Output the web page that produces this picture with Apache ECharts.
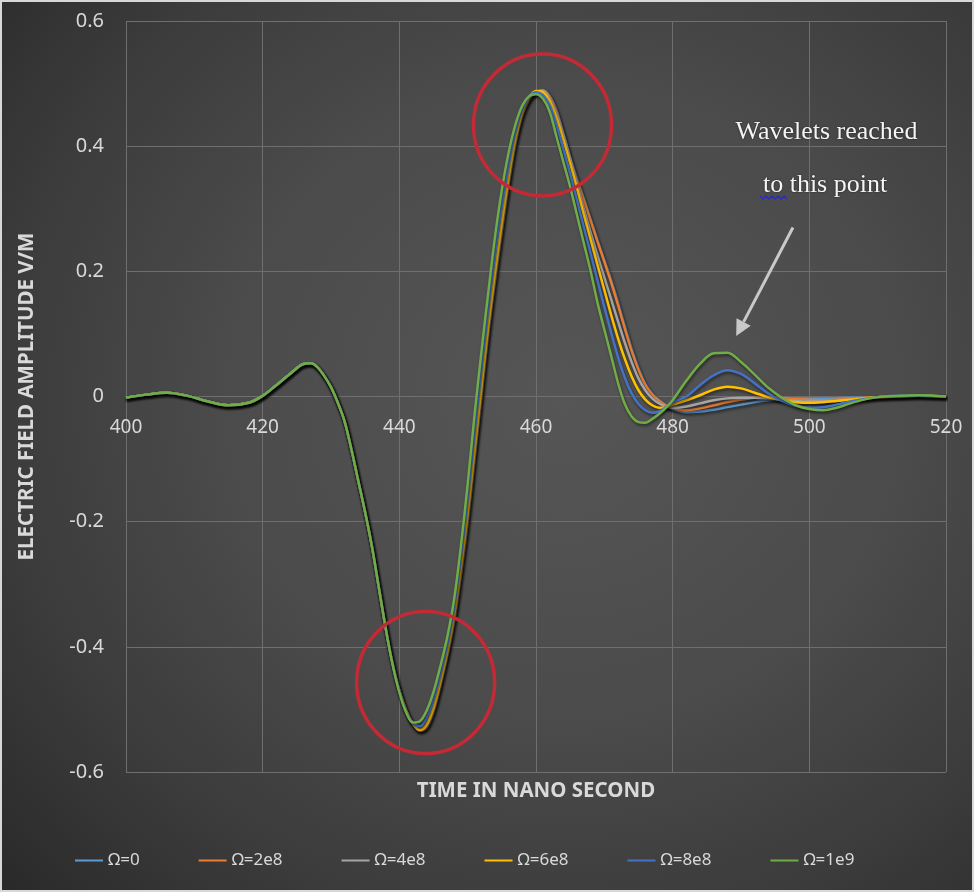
<!DOCTYPE html>
<html><head><meta charset="utf-8">
<script src="https://cdn.jsdelivr.net/npm/echarts@6/dist/echarts.min.js"></script>
<style>
html,body{margin:0;padding:0;background:#fff;}
#c{width:974px;height:892px;background:radial-gradient(ellipse 78% 80% at 58% 45%, #565656 0%, #4b4b4b 45%, #3b3b3b 75%, #2a2a2a 100%);}
</style></head><body><div id="c"></div>
<script>
// time samples (ns)
const times = [400,403,406,409,412,415,418,420,422,424,426,
427,428,429,430,431,432,433,434,435,436,437,438,
439,440,441,442,443,444,445,446,447,448,449,450,
451,452,453,454,455,456,457,458,459,460,461,462,
463,464,465,466,467,468,469,470,471,472,473,474,
475,476,477,478,479,480,
482,484,486,488,490,492,494,496,498,500,502,504,506,508,510,
513,516,520];

const seriesNames = ['Ω=0','Ω=2e8','Ω=4e8','Ω=6e8','Ω=8e8','Ω=1e9'];
const seriesColors = ['#5b9bd5','#ed7d31','#a5a5a5','#ffc000','#4472c4','#70ad47'];

const omega0 = [-0.002,0.003,0.006,0.001,-0.008,-0.014,-0.010,0.001,0.018,0.036,0.052,
0.053,0.047,0.033,0.015,-0.010,-0.040,-0.085,-0.135,-0.185,-0.240,-0.305,-0.370,
-0.426,-0.470,-0.502,-0.523,-0.534,-0.529,-0.504,-0.463,-0.416,-0.361,-0.286,-0.201,
-0.101,-0.001,0.099,0.184,0.264,0.339,0.404,0.449,0.474,0.486,0.489,0.480,
0.457,0.421,0.383,0.348,0.316,0.283,0.250,0.218,0.186,0.150,0.112,0.076,
0.045,0.020,0.004,-0.006,-0.014,-0.020,
-0.025,-0.024,-0.021,-0.017,-0.013,-0.009,-0.006,-0.004,-0.003,-0.003,-0.003,-0.003,-0.002,-0.002,-0.001,
0.000,0.001,0.000];

const omega2e8 = [-0.002,0.003,0.006,0.001,-0.008,-0.014,-0.010,0.001,0.018,0.036,0.052,
0.053,0.047,0.033,0.015,-0.010,-0.040,-0.085,-0.135,-0.185,-0.240,-0.305,-0.370,
-0.426,-0.470,-0.502,-0.523,-0.534,-0.528,-0.503,-0.462,-0.415,-0.360,-0.285,-0.200,
-0.100,0.000,0.100,0.185,0.265,0.340,0.405,0.450,0.474,0.486,0.489,0.479,
0.455,0.418,0.380,0.345,0.313,0.280,0.247,0.215,0.182,0.146,0.108,0.072,
0.042,0.018,0.003,-0.007,-0.014,-0.019,
-0.022,-0.019,-0.014,-0.009,-0.005,-0.002,-0.001,-0.002,-0.004,-0.005,-0.006,-0.005,-0.004,-0.002,-0.001,
0.000,0.001,0.000];

const omega4e8 = [-0.002,0.003,0.006,0.001,-0.008,-0.014,-0.010,0.001,0.018,0.036,0.052,
0.053,0.047,0.033,0.015,-0.010,-0.040,-0.085,-0.135,-0.185,-0.240,-0.305,-0.370,
-0.426,-0.470,-0.502,-0.523,-0.533,-0.526,-0.500,-0.459,-0.412,-0.355,-0.279,-0.192,
-0.093,0.007,0.106,0.192,0.272,0.346,0.409,0.452,0.476,0.487,0.488,0.476,
0.452,0.418,0.380,0.340,0.300,0.262,0.225,0.190,0.155,0.120,0.086,0.055,
0.029,0.010,-0.003,-0.011,-0.016,-0.018,
-0.016,-0.011,-0.006,-0.003,-0.002,-0.002,-0.003,-0.005,-0.007,-0.008,-0.008,-0.007,-0.005,-0.003,-0.001,
0.000,0.001,0.000];

const omega6e8 = [-0.002,0.003,0.006,0.001,-0.008,-0.014,-0.010,0.001,0.018,0.036,0.052,
0.053,0.047,0.033,0.015,-0.010,-0.040,-0.085,-0.135,-0.185,-0.240,-0.305,-0.370,
-0.426,-0.470,-0.502,-0.523,-0.533,-0.524,-0.497,-0.456,-0.408,-0.350,-0.272,-0.185,
-0.085,0.015,0.113,0.200,0.280,0.352,0.413,0.455,0.478,0.488,0.486,0.472,
0.445,0.410,0.372,0.332,0.290,0.250,0.210,0.170,0.130,0.093,0.060,0.032,
0.010,-0.005,-0.014,-0.018,-0.017,-0.013,
-0.006,0.002,0.011,0.0155,0.013,0.006,-0.001,-0.006,-0.009,-0.010,-0.009,-0.007,-0.005,-0.003,-0.001,
0.000,0.001,0.000];

const omega8e8 = [-0.002,0.003,0.006,0.001,-0.008,-0.014,-0.010,0.001,0.018,0.036,0.052,
0.053,0.047,0.033,0.015,-0.010,-0.040,-0.085,-0.135,-0.185,-0.240,-0.305,-0.370,
-0.427,-0.471,-0.504,-0.522,-0.527,-0.513,-0.484,-0.444,-0.397,-0.337,-0.256,-0.162,
-0.058,0.043,0.140,0.228,0.305,0.370,0.425,0.460,0.479,0.486,0.481,0.465,
0.433,0.395,0.355,0.313,0.270,0.228,0.185,0.143,0.102,0.063,0.030,0.005,
-0.012,-0.022,-0.026,-0.024,-0.017,-0.009,
0.000,0.018,0.034,0.042,0.036,0.021,0.005,-0.007,-0.015,-0.018,-0.017,-0.013,-0.008,-0.004,-0.001,
0.001,0.001,0.000];

const omega1e9 = [-0.002,0.003,0.006,0.001,-0.008,-0.014,-0.010,0.001,0.018,0.036,0.052,
0.053,0.047,0.033,0.015,-0.010,-0.040,-0.085,-0.135,-0.185,-0.240,-0.305,-0.370,
-0.428,-0.473,-0.505,-0.521,-0.519,-0.502,-0.472,-0.431,-0.385,-0.325,-0.240,-0.140,
-0.030,0.070,0.165,0.255,0.330,0.390,0.435,0.465,0.480,0.483,0.476,0.455,
0.415,0.375,0.335,0.290,0.245,0.200,0.150,0.107,0.065,0.022,-0.012,-0.032,
-0.041,-0.042,-0.036,-0.028,-0.018,-0.006,
0.025,0.052,0.069,0.070,0.055,0.035,0.014,-0.002,-0.014,-0.020,-0.022,-0.018,-0.011,-0.005,-0.001,
0.001,0.002,0.000];

const seriesValues = [omega0, omega2e8, omega4e8, omega6e8, omega8e8, omega1e9];

// tick settings
const xMin = 400, xMax = 520, xStep = 20;
const yMin = -0.6, yMax = 0.6, yStep = 0.2;

// annotation anchors (data coordinates)
const peakCircle = [460.95, 0.434];
const troughCircle = [443.85, -0.457];
const arrowFrom = [497.6, 0.27];
const arrowTo = [489.3, 0.0965];
const noteLine1 = {text: 'Wavelets reached', at: [502.5, 0.422]};
const noteLine2 = {text: 'to this point', at: [502.3, 0.338]};
const xTitle = 'TIME IN NANO SECOND';
const yTitle = 'ELECTRIC FIELD AMPLITUDE V/M';

const chart = echarts.init(document.getElementById('c'), null, {renderer: 'canvas'});
const labelColor = '#d9d9d9';
const gridColor = '#6f6f6f';

chart.setOption({
  backgroundColor: 'transparent',
  animation: false,
  color: seriesColors,
  grid: {left: 126, right: 28, top: 21, bottom: 120, containLabel: false},
  legend: {
    data: seriesNames,
    left: 70, top: 847,
    icon: 'rect', itemWidth: 28, itemHeight: 2, itemGap: 59,
    textStyle: {color: labelColor, fontSize: 17, fontFamily: 'Noto Sans'}
  },
  xAxis: {
    type: 'value', min: xMin, max: xMax, interval: xStep,
    axisLine: {onZero: false, lineStyle: {color: gridColor, width: 1}},
    axisTick: {show: false},
    axisLabel: {color: labelColor, fontSize: 19, fontFamily: 'Noto Sans', margin: 22},
    splitLine: {show: true, lineStyle: {color: gridColor, width: 1}}
  },
  yAxis: {
    type: 'value', min: yMin, max: yMax, interval: yStep,
    name: yTitle, nameLocation: 'middle', nameGap: 88, nameRotate: 90,
    nameTextStyle: {color: labelColor, fontSize: 20.5, fontWeight: 'bold', fontFamily: 'Noto Sans'},
    axisLine: {show: false},
    axisTick: {show: false},
    axisLabel: {color: labelColor, fontSize: 20, fontFamily: 'Noto Sans', margin: 22,
      formatter: v => (Math.abs(v) < 1e-9 ? '0' : (+v.toFixed(1)).toString())},
    splitLine: {show: true, lineStyle: {color: gridColor, width: 1}}
  },
  series: seriesNames.map((name, i) => ({
    name, type: 'line', smooth: 0.35, showSymbol: false, symbol: 'none',
    data: times.map((t, k) => [t, seriesValues[i][k]]),
    lineStyle: {width: 2.5, color: seriesColors[i], shadowColor: 'rgba(0,0,0,0.55)', shadowBlur: 3, shadowOffsetX: 1, shadowOffsetY: 2},
    emphasis: {disabled: true},
    z: 2 + i
  }))
});

function px(p) { return chart.convertToPixel({gridIndex: 0}, p); }

// place the x axis (line + labels) on the zero value, as in the original
const zeroY = px([xMin, 0])[1];
const bottomY = px([xMin, yMin])[1];
chart.setOption({xAxis: {offset: -(bottomY - zeroY)}});

const cTop = px(peakCircle), cBot = px(troughCircle);
const aFrom = px(arrowFrom), aTo = px(arrowTo);
const n1 = px(noteLine1.at), n2 = px(noteLine2.at);
const gLeft = px([xMin, yMin]), gRight = px([xMax, yMin]);

const dx = aTo[0] - aFrom[0], dy = aTo[1] - aFrom[1];
const len = Math.hypot(dx, dy), ux = dx / len, uy = dy / len;
const headLen = 16, headW = 8;
const baseX = aTo[0] - ux * headLen, baseY = aTo[1] - uy * headLen;

const redStyle = {fill: 'none', stroke: '#c42a35', lineWidth: 3.5};
const noteFont = {fill: '#f4f4f4', fontSize: 26, fontFamily: 'Liberation Serif', align: 'center', verticalAlign: 'middle',
  textShadowColor: 'rgba(0,0,0,0.6)', textShadowBlur: 2};

// wavy underline under "to"
const wav = [];
const wx0 = n2[0] - 65, wy = n2[1] + 12;
for (let k = 0; k <= 9; k++) wav.push([wx0 + k * 3, wy + (k % 2 ? 2 : -1)]);

chart.setOption({
  graphic: [
    {type: 'rect', silent: true, shape: {x: 1, y: 1, width: 972, height: 890}, style: {fill: 'none', stroke: '#d8d8d8', lineWidth: 2}, z: 100},
    {type: 'ellipse', silent: true, shape: {cx: cTop[0], cy: cTop[1], rx: 69, ry: 71}, style: redStyle, z: 50},
    {type: 'ellipse', silent: true, shape: {cx: cBot[0], cy: cBot[1], rx: 69, ry: 71}, style: redStyle, z: 50},
    {type: 'line', silent: true, shape: {x1: aFrom[0], y1: aFrom[1], x2: baseX, y2: baseY}, style: {stroke: '#c9c9c9', lineWidth: 3}, z: 50},
    {type: 'polygon', silent: true, shape: {points: [[aTo[0], aTo[1]], [baseX - uy * headW, baseY + ux * headW], [baseX + uy * headW, baseY - ux * headW]]}, style: {fill: '#c9c9c9'}, z: 50},
    {type: 'text', silent: true, x: n1[0], y: n1[1], style: Object.assign({text: noteLine1.text}, noteFont), z: 50},
    {type: 'text', silent: true, x: n2[0], y: n2[1], style: Object.assign({text: noteLine2.text}, noteFont), z: 50},
    {type: 'polyline', silent: true, shape: {points: wav}, style: {stroke: '#2a2ad0', lineWidth: 1.5, fill: 'none'}, z: 49},
    {type: 'text', silent: true, x: (gLeft[0] + gRight[0]) / 2, y: gLeft[1] + 19,
      style: {text: xTitle, fill: labelColor, fontSize: 20.5, fontWeight: 'bold', fontFamily: 'Noto Sans', align: 'center', verticalAlign: 'middle'}, z: 50}
  ]
});
</script></body></html>
